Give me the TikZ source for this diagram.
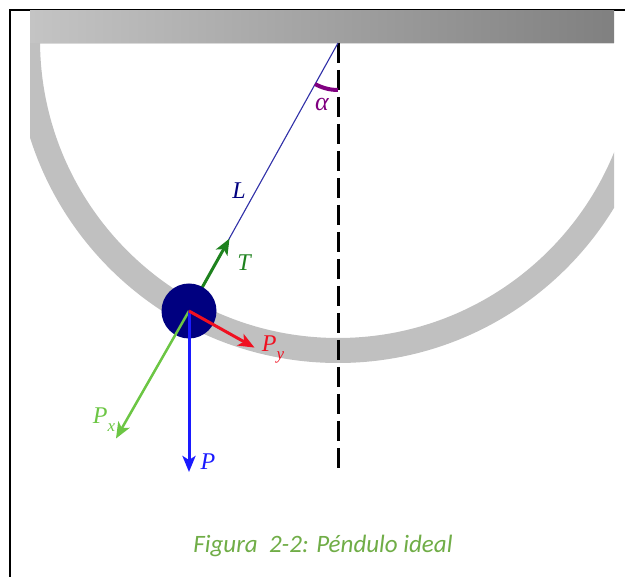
\documentclass[tikz,border=0pt]{standalone}
\usepackage{fontspec}
\newfontfamily\capfont{Carlito}
\newfontfamily\lblfont{Liberation Serif}
\usetikzlibrary{arrows.meta}
\definecolor{barL}{HTML}{C4C4C4}
\definecolor{barR}{HTML}{808080}
\definecolor{ringgray}{HTML}{C0C0C0}
\definecolor{stringblue}{HTML}{3030A8}
\definecolor{bobnavy}{HTML}{000080}
\definecolor{tgreen}{HTML}{1E821E}
\definecolor{pyred}{HTML}{F01020}
\definecolor{pxgreen}{HTML}{6CC644}
\definecolor{pblue}{HTML}{1A1AFF}
\definecolor{angpurple}{HTML}{800080}
\definecolor{capgreen}{HTML}{70AD47}
\newcommand{\subs}[1]{\raisebox{-0.3em}{\fontsize{17}{17}\selectfont #1}}
\begin{document}
\begin{tikzpicture}[x=1pt,y=-1pt,
  vec/.style={line width=3pt,-{Stealth[length=16pt,width=13pt,inset=4pt]}},
  lbl/.style={font=\lblfont\itshape\fontsize{24}{28}\selectfont, inner sep=0pt, anchor=base}]
\useasboundingbox (0,0) rectangle (625,577);
\fill[white] (0,0) rectangle (625,577);
% frame
\draw[line width=2pt] (10,577) -- (10,10) -- (625,10);
% ceiling bar
\shade[left color=barL, right color=barR] (30,11) rectangle (614,43);
\draw[line width=1pt, color=black!15] (30,43.5) -- (614,43.5);
% ring
\begin{scope}
\clip (30,44) rectangle (614,577);
\draw[line width=25pt, ringgray] (338,40) circle[radius=310.5];
\end{scope}
% key points
\coordinate (pivot) at (338,43);
\coordinate (dashend) at (338,472);
\coordinate (bobc) at (189,311);
\coordinate (Ttip) at (229.5,238.6);
\coordinate (Pytip) at (254.5,347.6);
\coordinate (Pxtip) at (116,438.5);
\coordinate (Ptip) at (189,472);
% vertical dashed line
\draw[line width=3pt, dash pattern=on 20pt off 7pt] (pivot) -- (dashend);
% string
\draw[stringblue, line width=1.1pt] (pivot) -- (bobc);
% angle
\draw[angpurple, line width=4pt] (pivot) ++(119.2:47) arc[start angle=119.2, end angle=90, radius=47];
\node[lbl, text=angpurple, font=\lblfont\itshape\fontsize{26}{30}\selectfont] (alpha) at (322,111) {α};
\node[lbl, text=bobnavy] (L) at (239,199) {L};
% tension
\draw[vec, tgreen] (bobc) -- (Ttip);
% bob
\node[circle, fill=bobnavy, minimum size=55pt, inner sep=0pt] (bob) at (bobc) {};
% weight components
\draw[vec, pxgreen, line width=2.5pt] (bob.center) -- (Pxtip);
\draw[vec, pblue] (bob.center) -- (Ptip);
\draw[vec, pyred] (bob.center) -- (Pytip);
% labels
\node[lbl, text=tgreen] (Tl) at (244,271) {T};
\node[lbl, text=pyred] (Pyl) at (273,352) {P\subs{y}};
\node[lbl, text=pxgreen] (Pxl) at (104,424) {P\subs{x}};
\node[lbl, text=pblue] (Pl) at (208,470) {P};
% caption
\node[font=\capfont\itshape\fontsize{25}{30}\selectfont, text=capgreen, inner sep=0pt, anchor=base] (cap) at (323,553) {Figura\ \ 2-2: Péndulo ideal};
\end{tikzpicture}
\end{document}
